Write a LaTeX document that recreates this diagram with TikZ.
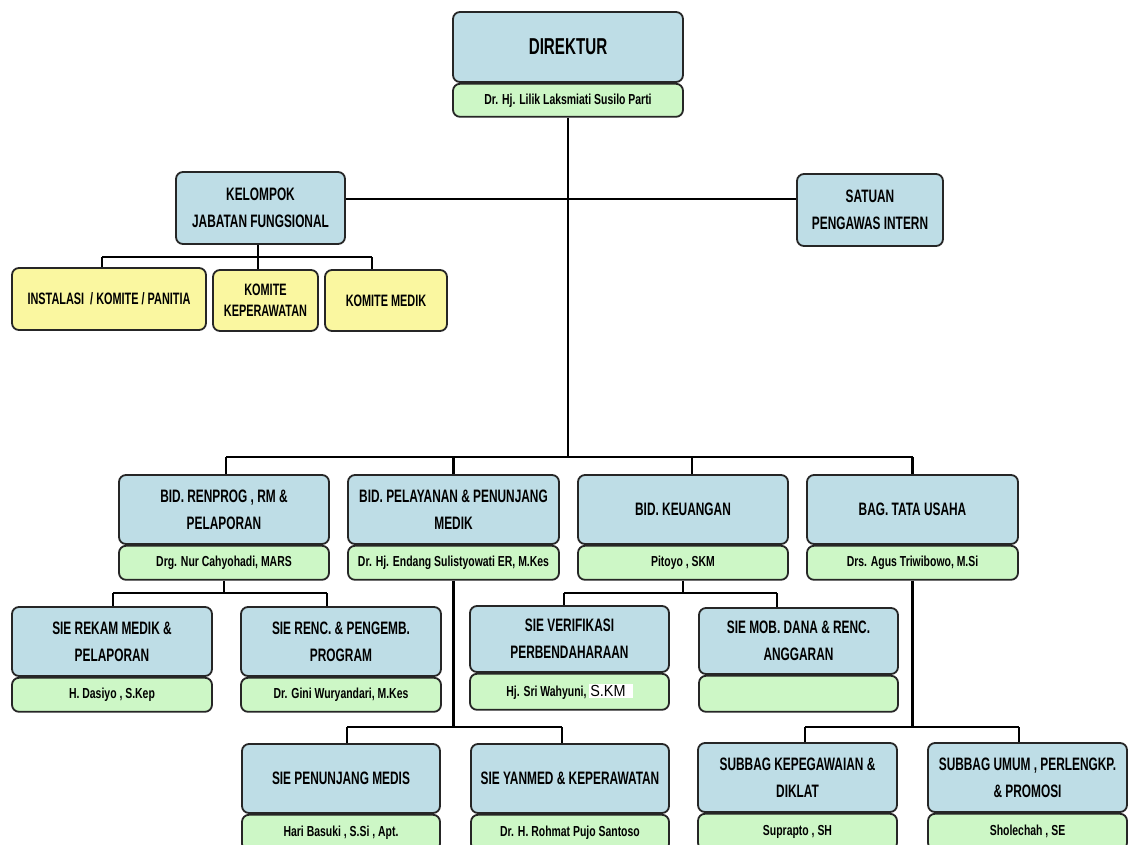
\documentclass[tikz,border=0pt]{standalone}
\usepackage{fontspec}
\usepackage{xcolor}
\usepackage{tikz}
\usetikzlibrary{positioning,calc}
\setmainfont{Liberation Sans}[FakeStretch=0.72]
\newfontfamily\titlefont{Liberation Sans}[FakeStretch=0.66]
\definecolor{boxblue}{HTML}{BEDDE6}
\definecolor{boxgreen}{HTML}{CDF7C6}
\definecolor{boxyellow}{HTML}{FAF7A0}
\definecolor{boxline}{HTML}{262626}

\begin{document}
\begin{tikzpicture}[x=1pt,y=-1pt,
  unitbox/.style={draw=boxline,line width=1.8pt,rounded corners=7pt,fill=boxblue,
    align=center,inner sep=0pt,font=\titlefont\bfseries\fontsize{18}{27}\selectfont},
  namebox/.style={draw=boxline,line width=1.8pt,rounded corners=7pt,fill=boxgreen,
    align=center,inner sep=0pt,font=\bfseries\fontsize{14.5}{16}\selectfont},
  fungbox/.style={draw=boxline,line width=1.8pt,rounded corners=7pt,fill=boxyellow,
    align=center,inner sep=0pt,font=\titlefont\bfseries\fontsize{16.5}{21}\selectfont},
  conn/.style={line width=2.4pt,draw=black}]
  \useasboundingbox (0,0) rectangle (1130,844);
  \fill[white] (0,0) rectangle (1130,844);
  \clip (0,0) rectangle (1130,844);

  % Direktur
  \node[unitbox,minimum width=230pt,minimum height=70pt,font=\titlefont\bfseries\fontsize{23}{27}\selectfont]
    (dir) at (568,47) {DIREKTUR};
  \node[namebox,minimum width=230pt,minimum height=33pt,below=0pt of dir] (dir-n)
    {Dr. Hj. Lilik Laksmiati Susilo Parti};

  % Staff level
  \node[unitbox,minimum width=169pt,minimum height=72pt] (kjf) at (260.5,208)
    {KELOMPOK\\JABATAN FUNGSIONAL};
  \node[unitbox,minimum width=146pt,minimum height=72pt] (spi) at (870,210)
    {SATUAN\\PENGAWAS INTERN};

  \node[fungbox,minimum width=194pt,minimum height=62pt] (inst) at (109,299)
    {INSTALASI\ \ / KOMITE / PANITIA};
  \node[fungbox,minimum width=105pt,minimum height=61pt] (kkep) at (265.5,300.5)
    {KOMITE\\KEPERAWATAN};
  \node[fungbox,minimum width=122pt,minimum height=61pt] (kmed) at (386,300.5)
    {KOMITE MEDIK};

  % Bidang / Bagian
  \node[unitbox,minimum width=210pt,minimum height=69pt] (renprog) at (224,509.5)
    {BID. RENPROG , RM \&\\PELAPORAN};
  \node[namebox,minimum width=210pt,minimum height=34pt,below=0pt of renprog] (renprog-n)
    {Drg. Nur Cahyohadi, MARS};
  \node[unitbox,minimum width=211pt,minimum height=69pt] (yan) at (453.5,509.5)
    {BID. PELAYANAN \& PENUNJANG\\MEDIK};
  \node[namebox,minimum width=211pt,minimum height=34pt,below=0pt of yan] (yan-n)
    {Dr. Hj. Endang Sulistyowati ER, M.Kes};
  \node[unitbox,minimum width=210pt,minimum height=69pt] (keu) at (683,509.5)
    {BID. KEUANGAN};
  \node[namebox,minimum width=210pt,minimum height=34pt,below=0pt of keu] (keu-n)
    {Pitoyo , SKM};
  \node[unitbox,minimum width=211pt,minimum height=69pt] (tu) at (912.5,509.5)
    {BAG. TATA USAHA};
  \node[namebox,minimum width=211pt,minimum height=34pt,below=0pt of tu] (tu-n)
    {Drs. Agus Triwibowo, M.Si};

  % Seksi level 1
  \node[unitbox,minimum width=200pt,minimum height=69pt] (rekam) at (112,641.5)
    {SIE REKAM MEDIK \&\\PELAPORAN};
  \node[namebox,minimum width=200pt,minimum height=34pt,below=0pt of rekam] (rekam-n)
    {H. Dasiyo , S.Kep};
  \node[unitbox,minimum width=200pt,minimum height=69pt] (renc) at (341,641.5)
    {SIE RENC. \& PENGEMB.\\PROGRAM};
  \node[namebox,minimum width=200pt,minimum height=34pt,below=0pt of renc] (renc-n)
    {Dr. Gini Wuryandari, M.Kes};
  \node[unitbox,minimum width=199pt,minimum height=66pt] (verif) at (569.5,639)
    {SIE VERIFIKASI\\PERBENDAHARAAN};
  \node[namebox,minimum width=199pt,minimum height=36pt,below=0pt of verif] (verif-n)
    {Hj. Sri Wahyuni, {\setlength{\fboxsep}{1pt}\colorbox{white}{\mdseries\fontsize{16}{17}\addfontfeature{FakeStretch=0.9}\selectfont S.KM\hspace{6pt}}}};
  \node[unitbox,minimum width=199pt,minimum height=66pt] (mob) at (798.5,641)
    {SIE MOB. DANA \& RENC.\\ANGGARAN};
  \node[namebox,minimum width=199pt,minimum height=36pt,below=0pt of mob] (mob-n) {};

  % Seksi / Subbag level 2
  \node[unitbox,minimum width=198pt,minimum height=69pt] (penunj) at (341,778.5)
    {SIE PENUNJANG MEDIS};
  \node[namebox,minimum width=198pt,minimum height=36pt,below=0pt of penunj] (penunj-n)
    {Hari Basuki , S.Si , Apt.};
  \node[unitbox,minimum width=198pt,minimum height=69pt] (yanmed) at (570,778.5)
    {SIE YANMED \& KEPERAWATAN};
  \node[namebox,minimum width=198pt,minimum height=36pt,below=0pt of yanmed] (yanmed-n)
    {Dr. H. Rohmat Pujo Santoso};
  \node[unitbox,minimum width=199pt,minimum height=69pt] (kepeg) at (797.5,777.5)
    {SUBBAG KEPEGAWAIAN \&\\DIKLAT};
  \node[namebox,minimum width=199pt,minimum height=36pt,below=0pt of kepeg] (kepeg-n)
    {Suprapto , SH};
  \node[unitbox,minimum width=199pt,minimum height=69pt] (umum) at (1027.5,777.5)
    {SUBBAG UMUM , PERLENGKP.\\\& PROMOSI};
  \node[namebox,minimum width=199pt,minimum height=36pt,below=0pt of umum] (umum-n)
    {Sholechah , SE};

  % Bus points
  \coordinate (mainL) at (226,457);
  \coordinate (mainR) at (912.5,457);
  \coordinate (keuT) at (692,457);
  \coordinate (staff) at (568,199);
  \coordinate (fungL) at (102,257);
  \coordinate (fungM) at (258,257);
  \coordinate (fungR) at (372,257);
  \coordinate (renL) at (113,593);
  \coordinate (renR) at (327,593);
  \coordinate (keuL) at (564,593);
  \coordinate (keuR) at (777,593);
  \coordinate (yanL) at (347,727);
  \coordinate (yanR) at (562,727);
  \coordinate (tuL) at (805,727);
  \coordinate (tuR) at (1019,727);

  % Direktur to everything
  \draw[conn] (dir-n.south) -- (dir-n.south |- mainL);
  \draw[conn] (kjf.east |- staff) -- (spi.west |- staff);
  \draw[conn] (mainL) -- (mainR);
  \draw[conn] (mainL) -- (mainL |- renprog.north);
  \draw[conn] (yan.north |- mainL) -- (yan.north);
  \draw[conn] (keuT) -- (keuT |- keu.north);
  \draw[conn] (mainR) -- (mainR |- tu.north);

  % Fungsional group
  \draw[conn] (fungM |- kjf.south) -- (fungM);
  \draw[conn] (fungL) -- (fungR);
  \draw[conn] (fungL) -- (fungL |- inst.north);
  \draw[conn] (fungM) -- (fungM |- kkep.north);
  \draw[conn] (fungR) -- (fungR |- kmed.north);

  % Renprog
  \draw[conn] (renprog-n.south) -- (renprog-n.south |- renL);
  \draw[conn] (renL) -- (renR);
  \draw[conn] (renL) -- (renL |- rekam.north);
  \draw[conn] (renR) -- (renR |- renc.north);

  % Keuangan
  \draw[conn] (keu-n.south) -- (keu-n.south |- keuL);
  \draw[conn] (keuL) -- (keuR);
  \draw[conn] (keuL) -- (keuL |- verif.north);
  \draw[conn] (keuR) -- (keuR |- mob.north);

  % Pelayanan
  \draw[conn] (yan-n.south) -- (yan-n.south |- yanL);
  \draw[conn] (yanL) -- (yanR);
  \draw[conn] (yanL) -- (yanL |- penunj.north);
  \draw[conn] (yanR) -- (yanR |- yanmed.north);

  % Tata usaha
  \draw[conn] (tu-n.south) -- (tu-n.south |- tuL);
  \draw[conn] (tuL) -- (tuR);
  \draw[conn] (tuL) -- (tuL |- kepeg.north);
  \draw[conn] (tuR) -- (tuR |- umum.north);
\end{tikzpicture}
\end{document}
